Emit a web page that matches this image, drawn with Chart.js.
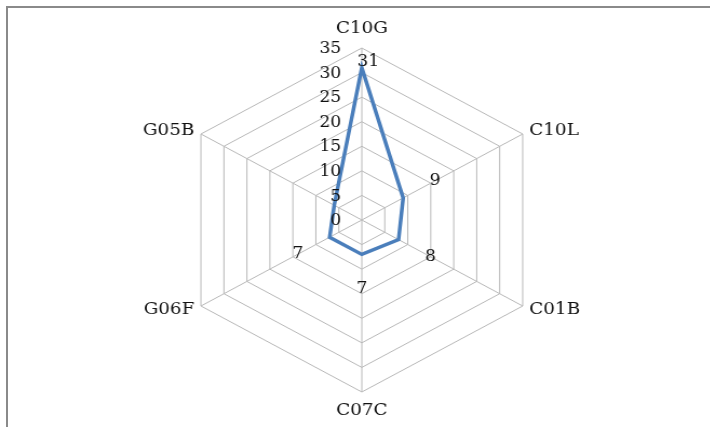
<!DOCTYPE html>
<html lang="en">
<head>
  <meta charset="UTF-8">
  <title>Radar C10G</title>
  <style>
    body { margin: 0; background: #fff; }
    #marco {
      position: absolute; left: 6px; top: 6px; width: 720px; height: 440px;
      border-left: 2px solid #8a8a8a; border-top: 2px solid #8a8a8a;
    }
    #lienzo {
      position: absolute; left: 0; top: 0; width: 657px; height: 427px;
      transform: scaleX(1.08); transform-origin: 0 0;
    }
  </style>
</head>
<body>

  <div id="marco"></div>
  <div id="lienzo">
    <canvas id="grafico"></canvas>
  </div>

  <script src="https://cdn.jsdelivr.net/npm/chart.js"></script>

  <script>
    // Datos del gráfico
    const categorias = ['C10G', 'C10L', 'C01B', 'C07C', 'G06F', 'G05B'];
    const valores = [31, 9, 8, 7, 7, 6];
    const etiquetasValor = ['31', '9', '8', '7', '7', ''];
    const marcasEje = [0, 5, 10, 15, 20, 25, 30, 35];

    const fuente = '"DejaVu Serif", "Liberation Serif", serif';

    // dibuja nombres de ejes, marcas y etiquetas de datos
    const textos = {
      id: 'textos',
      afterDraw(chart) {
        const ctx = chart.ctx;
        const r = chart.scales.r;
        ctx.save();
        ctx.fillStyle = '#111';

        // nombres de categoria
        ctx.font = '17px ' + fuente;
        ctx.textBaseline = 'middle';
        categorias.forEach((nombre, i) => {
          const arribaAbajo = (i === 0 || i === 3);
          const p = r.getPointPosition(i, r.drawingArea + (arribaAbajo ? 19 : 7));
          if (arribaAbajo) ctx.textAlign = 'center';
          else ctx.textAlign = p.x > r.xCenter ? 'left' : 'right';
          ctx.fillText(nombre, p.x, p.y);
        });

        // marcas del eje radial
        ctx.font = '16px ' + fuente;
        ctx.textAlign = 'right';
        marcasEje.forEach(v => {
          const d = r.getDistanceFromCenterForValue(v);
          ctx.fillText(String(v), r.xCenter - 19, r.yCenter - d + 1);
        });

        // etiquetas de valores
        ctx.textAlign = 'center';
        const meta = chart.getDatasetMeta(0);
        meta.data.forEach((punto, i) => {
          if (!etiquetasValor[i]) return;
          const d = r.getDistanceFromCenterForValue(valores[i]);
          let p;
          if (i === 0) {
            p = r.getPointPosition(i, d + 6);
            p.x += 6;
          } else {
            p = r.getPointPosition(i, d + 34);
          }
          ctx.fillText(etiquetasValor[i], p.x, p.y);
        });
        ctx.restore();
      }
    };

    const grafico = new Chart(document.querySelector('#grafico'), {
      type: 'radar',
      data: {
        labels: categorias,
        datasets: [{
          label: 'Total',
          data: valores,
          borderColor: '#4A7EBB',
          borderWidth: 3.5,
          fill: false,
          pointRadius: 0,
          pointHoverRadius: 0,
          tension: 0
        }]
      },
      options: {
        responsive: true,
        maintainAspectRatio: false,
        animation: false,
        layout: { padding: { left: 14, right: 0, top: 48, bottom: 35 } },
        plugins: {
          legend: { display: false },
          tooltip: { enabled: false }
        },
        scales: {
          r: {
            min: 0,
            max: 35,
            ticks: { stepSize: 5, display: false },
            grid: { color: '#b8b8b8', lineWidth: 1 },
            angleLines: { color: '#b8b8b8', lineWidth: 1 },
            pointLabels: { display: false }
          }
        }
      },
      plugins: [textos]
    });
  </script>

</body>
</html>
